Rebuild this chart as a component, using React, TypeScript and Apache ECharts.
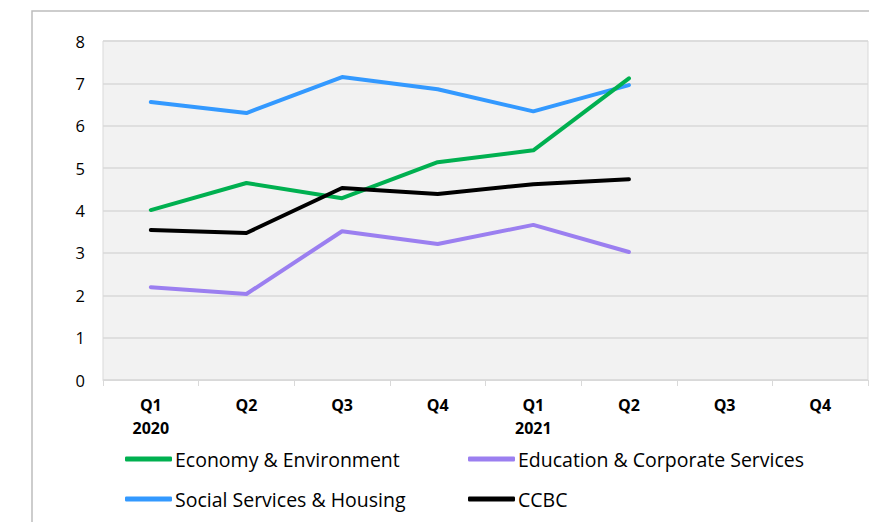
import React, { useEffect, useRef } from "react";
import * as echarts from "echarts";

const quarters = ["Q1", "Q2", "Q3", "Q4", "Q1", "Q2", "Q3", "Q4"];
const years = ["2020", "", "", "", "2021", "", "", ""];
const economy = [4.01, 4.65, 4.29, 5.14, 5.42, 7.12, null, null];
const education = [2.19, 2.03, 3.51, 3.21, 3.66, 3.02, null, null];
const social = [6.56, 6.3, 7.15, 6.86, 6.34, 6.96, null, null];
const ccbc = [3.54, 3.47, 4.53, 4.39, 4.62, 4.74, null, null];
const yTicks = [0, 1, 2, 3, 4, 5, 6, 7, 8];

const FONT = "Open Sans";

export default function App() {
  const ref = useRef<HTMLDivElement>(null);
  useEffect(() => {
    if (!ref.current) return;
    const chart = echarts.init(ref.current, null, { renderer: "svg" });
    const cats = quarters.map((q, i) => (years[i] ? q + "\n" + years[i] : q));
    const mk = (name: string, data: (number | null)[], color: string, z: number) => ({
      name,
      type: "line",
      data,
      symbol: "none",
      z,
      lineStyle: { color, width: 4, cap: "round", join: "round" },
      itemStyle: { color },
    });
    const legendItem = (name: string, left: number, top: number) => ({
      data: [name],
      left,
      top,
      icon: "roundRect",
      itemWidth: 47,
      itemHeight: 5,
      itemGap: 0,
      textStyle: { fontFamily: FONT, fontSize: 19.5, color: "#000", padding: [0, 0, 0, -2] },
      padding: 0,
    });
    chart.setOption({
      animation: false,
      backgroundColor: "#fff",
      graphic: [
        {
          type: "rect",
          shape: { x: 32, y: 11, width: 900, height: 600 },
          style: { fill: "none", stroke: "#bdbdbd", lineWidth: 1.5 },
          silent: true,
          z: -10,
        },
      ],
      grid: {
        left: 103,
        top: 41,
        right: 1,
        bottom: 142,
        show: true,
        backgroundColor: "#f2f2f2",
        borderColor: "#d9d9d9",
        borderWidth: 1,
      },
      xAxis: {
        type: "category",
        data: cats,
        boundaryGap: true,
        axisLine: { lineStyle: { color: "#d9d9d9", width: 1 } },
        axisTick: { show: true, length: 6, lineStyle: { color: "#d9d9d9" } },
        axisLabel: {
          interval: 0,
          margin: 13,
          fontFamily: FONT,
          fontSize: 16,
          fontWeight: "bold",
          color: "#000",
          lineHeight: 23,
        },
        splitLine: { show: false },
      },
      yAxis: {
        type: "value",
        min: yTicks[0],
        max: yTicks[yTicks.length - 1],
        interval: 1,
        axisLine: { show: false },
        axisTick: { show: false },
        axisLabel: { fontFamily: FONT, fontSize: 16.5, color: "#000", margin: 18 },
        splitLine: { lineStyle: { color: "#d9d9d9", width: 1.5 } },
      },
      legend: [
        legendItem("Economy & Environment", 125, 449),
        legendItem("Education & Corporate Services", 468, 449),
        legendItem("Social Services & Housing", 125, 489),
        legendItem("CCBC", 468, 489),
      ],
      series: [
        mk("Economy & Environment", economy, "#00b050", 4),
        mk("Education & Corporate Services", education, "#9b7ff0", 2),
        mk("Social Services & Housing", social, "#3399ff", 3),
        mk("CCBC", ccbc, "#000000", 5),
      ],
    });
    return () => chart.dispose();
  }, []);
  return (
    <div
      ref={ref}
      style={{ position: "fixed", left: 0, top: 0, width: 869, height: 522 }}
    />
  );
}
